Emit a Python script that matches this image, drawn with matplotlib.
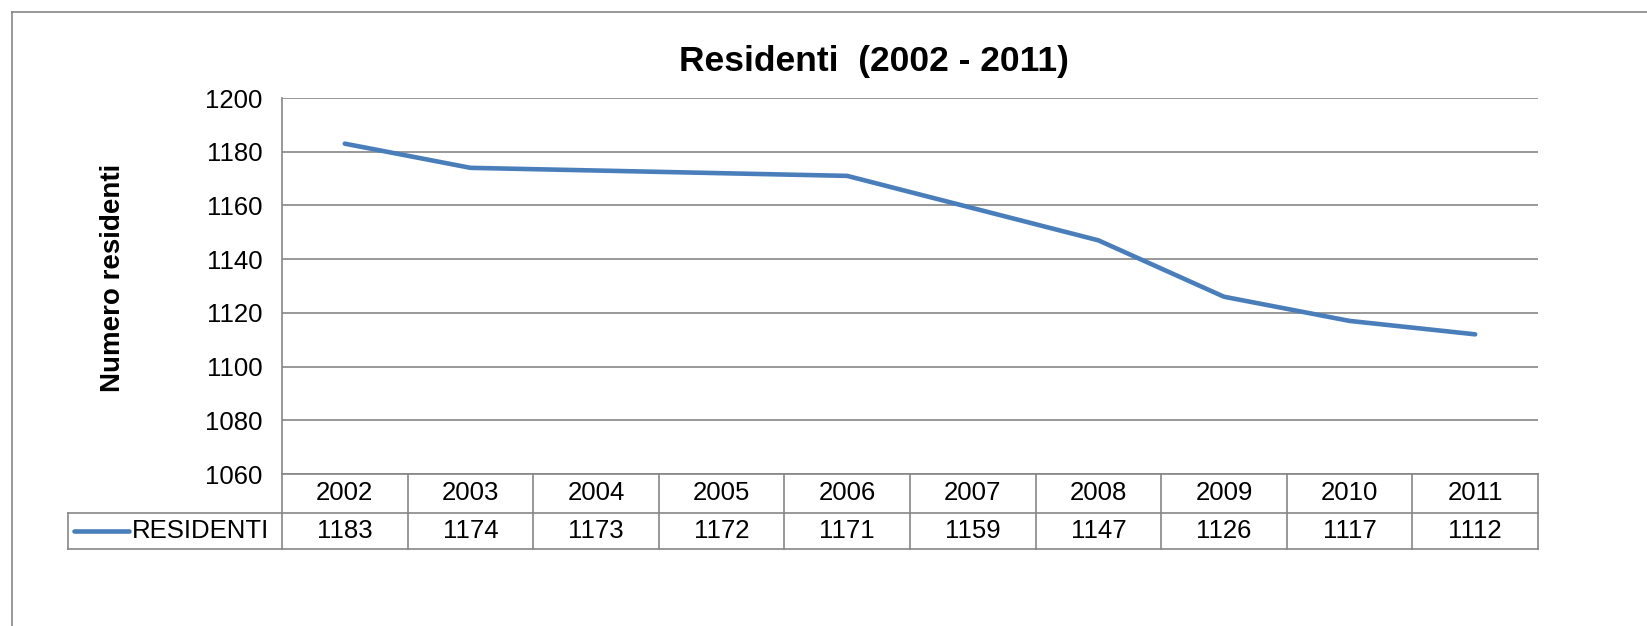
import matplotlib
matplotlib.use('Agg')
import matplotlib.pyplot as plt
from matplotlib.lines import Line2D

plt.rcParams['font.family'] = ['Liberation Sans', 'DejaVu Sans']

# data
years = ['2002', '2003', '2004', '2005', '2006', '2007', '2008', '2009', '2010', '2011']
residenti = [1183, 1174, 1173, 1172, 1171, 1159, 1147, 1126, 1117, 1112]
series_name = 'RESIDENTI'
y_ticks = [1060, 1080, 1100, 1120, 1140, 1160, 1180, 1200]

W, H = 1647, 626
GRID = '#868686'
BLUE = '#4a7ebb'

fig = plt.figure(figsize=(W / 100, H / 100), dpi=100)

# plot area in pixel coords
left, right, top, bottom = 282, 1538, 98, 474
ax = fig.add_axes([left / W, 1 - bottom / H, (right - left) / W, (bottom - top) / H])

n = len(years)
xs = list(range(n))
ax.plot(xs, residenti, color=BLUE, linewidth=3.3, solid_capstyle='round', zorder=3)
ax.set_xlim(-0.5, n - 0.5)
ax.set_ylim(y_ticks[0], y_ticks[-1])
ax.set_yticks(y_ticks)
ax.set_xticks([])
ax.tick_params(axis='y', length=0, labelsize=18.5, pad=14)
ax.yaxis.grid(True, color=GRID, linewidth=1.2)
for s in ['top', 'right', 'bottom']:
    ax.spines[s].set_visible(False)
ax.spines['left'].set_color(GRID)
ax.spines['left'].set_linewidth(1.2)

fig.text(874 / W, 1 - 62 / H, 'Residenti  (2002 - 2011)', fontsize=25.5,
         fontweight='bold', ha='center', va='center')
fig.text(113 / W, 1 - 278 / H, 'Numero residenti', fontsize=20, fontweight='bold',
         rotation=90, ha='center', va='center')

# data table below the axes (axes-fraction coordinates)
ph = bottom - top
r1 = -(513 - bottom) / ph
r2 = -(549 - bottom) / ph
leg_left = (68 - left) / (right - left)

def seg(x0, y0, x1, y1):
    ax.add_line(Line2D([x0, x1], [y0, y1], transform=ax.transAxes, color=GRID,
                       linewidth=1.2, clip_on=False))

seg(0, 0, 1, 0)
seg(leg_left, r1, 1, r1)
seg(leg_left, r2, 1, r2)
seg(leg_left, r1, leg_left, r2)
for i in range(n + 1):
    seg(i / n, 0, i / n, r2)

for i, (yr, v) in enumerate(zip(years, residenti)):
    xc = (i + 0.5) / n
    ax.text(xc, r1 / 2, yr, transform=ax.transAxes, ha='center', va='center', fontsize=18.5)
    ax.text(xc, (r1 + r2) / 2, str(v), transform=ax.transAxes, ha='center', va='center',
            fontsize=18.5)

lx0 = (74 - left) / (right - left)
lx1 = (129 - left) / (right - left)
ym = (r1 + r2) / 2
ax.add_line(Line2D([lx0, lx1], [ym, ym], transform=ax.transAxes, color=BLUE,
                   linewidth=3.3, solid_capstyle='round', clip_on=False))
ax.text((132 - left) / (right - left), ym, series_name, transform=ax.transAxes,
        ha='left', va='center', fontsize=18.5)

# outer chart border (top and left edges visible)
fig.add_artist(Line2D([12 / W, 1], [1 - 12 / H, 1 - 12 / H], transform=fig.transFigure,
                      color=GRID, linewidth=1.2))
fig.add_artist(Line2D([12 / W, 12 / W], [0, 1 - 12 / H], transform=fig.transFigure,
                      color=GRID, linewidth=1.2))

fig.savefig('out.png', dpi=100)
